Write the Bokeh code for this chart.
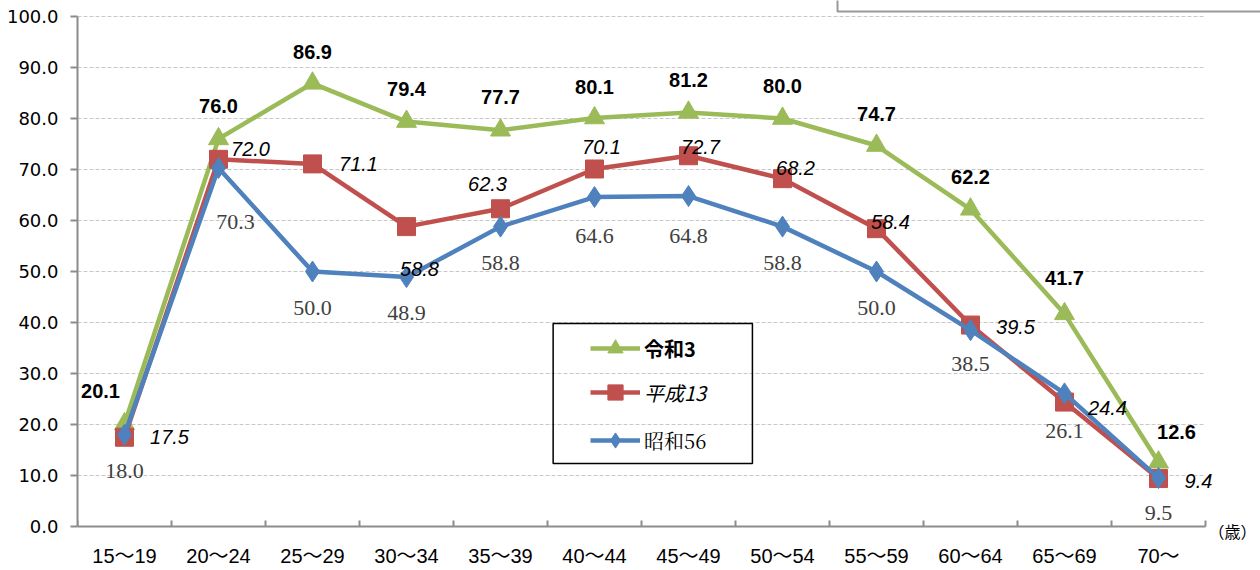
import math
from bokeh.plotting import figure
from bokeh.models import (Range1d, FixedTicker, ColumnDataSource, Legend, LegendItem,
                          BoxAnnotation, NumeralTickFormatter)
from bokeh.core.properties import value
from bokeh.embed import file_html
from bokeh.resources import INLINE

categories = ["15～19", "20～24", "25～29", "30～34", "35～39", "40～44",
              "45～49", "50～54", "55～59", "60～64", "65～69", "70～"]
reiwa3 = [20.1, 76.0, 86.9, 79.4, 77.7, 80.1, 81.2, 80.0, 74.7, 62.2, 41.7, 12.6]
heisei13 = [17.5, 72.0, 71.1, 58.8, 62.3, 70.1, 72.7, 68.2, 58.4, 39.5, 24.4, 9.4]
showa56 = [18.0, 70.3, 50.0, 48.9, 58.8, 64.6, 64.8, 58.8, 50.0, 38.5, 26.1, 9.5]
series_names = ["令和3", "平成13", "昭和56"]
y_ticks = [0, 10, 20, 30, 40, 50, 60, 70, 80, 90, 100]
unit_label = "（歳）"

# label offsets (screen px), styling only
g_dx = [-24, 0, 0, 0, 0, 0, 0, 0, 0, 0, 0, 18]
g_dy = [-33, -33, -31, -33, -33, -31, -32, -33, -32, -32, -36, -30]
r_dx = [45, 32, 46, 13, -13, 7, 12, 13, 14, 45, 43, 40]
r_dy = [0, -10, 0, 42, -25, -22, -9, -11, -7, 2, 6, 2]
b_dx = [0, 17, 0, 0, 0, 0, 0, 0, 0, 0, 0, 0]
b_dy = [36, 54, 36, 36, 36, 39, 40, 36, 36, 34, 38, 35]

GREEN = "#9BBB59"
RED = "#C0504D"
BLUE = "#4F81BD"
AXIS = "#8c8c8c"

n = len(categories)
xs = [i + 0.5 for i in range(n)]

# layout: plot area 1128 x 510 px, left gutter 77 px, top gutter 16 px, bottom gutter 44 px
W, H = 1260, 570
LEFT, TOP, BOTTOM = 77, 16, 44
px_x = (1205 - LEFT) / n          # px per category
px_y = (H - TOP - BOTTOM) / 100.0  # px per unit
x_end = (W - LEFT) / px_x
y_start = -BOTTOM / px_y
y_end = 100 + TOP / px_y

p = figure(width=W, height=H, output_backend="svg", toolbar_location=None,
           x_range=Range1d(0, x_end), y_range=Range1d(y_start, y_end),
           x_axis_location=None,
           min_border_left=LEFT, min_border_right=0, min_border_top=0, min_border_bottom=0)
p.outline_line_color = None
p.background_fill_color = "white"
p.xgrid.visible = False
p.ygrid.visible = False

# y axis
p.yaxis.bounds = (0, 100)
p.yaxis.ticker = FixedTicker(ticks=y_ticks)
p.yaxis.formatter = NumeralTickFormatter(format="0.0")
p.yaxis.major_tick_in = 0
p.yaxis.major_tick_out = 7
p.yaxis.major_tick_line_color = AXIS
p.yaxis.major_tick_line_width = 2
p.yaxis.minor_tick_line_color = None
p.yaxis.axis_line_color = AXIS
p.yaxis.axis_line_width = 2
p.yaxis.major_label_text_font = "DejaVu Sans"
p.yaxis.major_label_text_font_size = "18px"
p.yaxis.major_label_text_color = "black"
p.yaxis.major_label_standoff = 12

# horizontal grid lines
grid_y = y_ticks[1:]
p.segment(x0=[0] * len(grid_y), y0=grid_y, x1=[n] * len(grid_y), y1=grid_y,
          line_color="#c8c8c8", line_width=1, line_dash="4 2")

# x axis (line, boundary ticks, category labels, unit)
p.segment(x0=[0], y0=[0], x1=[n], y1=[0], line_color=AXIS, line_width=2)
p.ray(x=list(range(n + 1)), y=[0] * (n + 1), length=6, length_units="screen",
      angle=math.pi / 2, line_color=AXIS, line_width=2)
p.text(x=xs, y=[0] * n, text=categories, y_offset=29, text_align="center",
       text_baseline="middle", text_font=value("Liberation Sans, Noto Sans CJK JP"),
       text_font_size="20px", text_color="black")
p.text(x=[n], y=[0], text=[unit_label], x_offset=3, y_offset=4, text_align="left",
       text_baseline="middle", text_font=value("Noto Sans CJK JP"),
       text_font_size="16px", text_color="black")

src = ColumnDataSource(dict(x=xs, g=reiwa3, r=heisei13, b=showa56,
                            gl=[f"{v:.1f}" for v in reiwa3],
                            rl=[f"{v:.1f}" for v in heisei13],
                            bl=[f"{v:.1f}" for v in showa56],
                            gdx=g_dx, gdy=g_dy, rdx=r_dx, rdy=r_dy, bdx=b_dx, bdy=b_dy))

gl = p.line("x", "g", source=src, line_color=GREEN, line_width=4.5)
gm = p.scatter("x", "g", source=src, marker="triangle", size=20, fill_color=GREEN, line_color=GREEN)
rl = p.line("x", "r", source=src, line_color=RED, line_width=4.5)
rm = p.scatter("x", "r", source=src, marker="square", size=18, fill_color=RED, line_color=RED)
bl = p.line("x", "b", source=src, line_color=BLUE, line_width=4.5)
bm = p.scatter("x", "b", source=src, marker="diamond", size=21, fill_color=BLUE, line_color=BLUE)

p.text("x", "g", text="gl", source=src, x_offset="gdx", y_offset="gdy",
       text_align="center", text_baseline="middle", text_font=value("Liberation Sans"),
       text_font_style="bold", text_font_size="20px", text_color="black")
p.text("x", "r", text="rl", source=src, x_offset="rdx", y_offset="rdy",
       text_align="center", text_baseline="middle", text_font=value("Liberation Sans"),
       text_font_style="italic", text_font_size="20px", text_color="black")
p.text("x", "b", text="bl", source=src, x_offset="bdx", y_offset="bdy",
       text_align="center", text_baseline="middle", text_font=value("Liberation Serif"),
       text_font_size="22px", text_color="#404040")

# legend frame
p.add_layout(BoxAnnotation(left=5.06, right=7.18, bottom=12.35, top=39.8,
                           fill_alpha=0, line_color="black", line_alpha=1, line_width=1.5,
                           level="overlay"))

legend_specs = [
    (series_names[0], [gl, gm], "Noto Sans CJK JP", "bold", 203),
    (series_names[1], [rl, rm], "Noto Sans CJK JP", "italic", 159),
    (series_names[2], [bl, bm], "Noto Serif CJK JP", "normal", 111),
]
for name, rends, font, style, ypos in legend_specs:
    lg = Legend(items=[LegendItem(label=name, renderers=rends)], location=(513, ypos),
                glyph_width=50, glyph_height=38, label_height=38, padding=0, margin=0,
                spacing=0, label_standoff=4, border_line_alpha=0, background_fill_alpha=0,
                label_text_font=font, label_text_font_style=style,
                label_text_font_size="20px", label_text_color="black")
    p.add_layout(lg, "center")

# fragment of a neighbouring text box at the top right
p.add_layout(BoxAnnotation(left=(837 - LEFT) / px_x, right=x_end + 1,
                           bottom=(H - BOTTOM - 11) / px_y, top=y_end + 2,
                           fill_alpha=0, line_color="#999999", line_alpha=1, line_width=2,
                           level="overlay"))

open("out.html", "w").write(file_html(p, INLINE))
